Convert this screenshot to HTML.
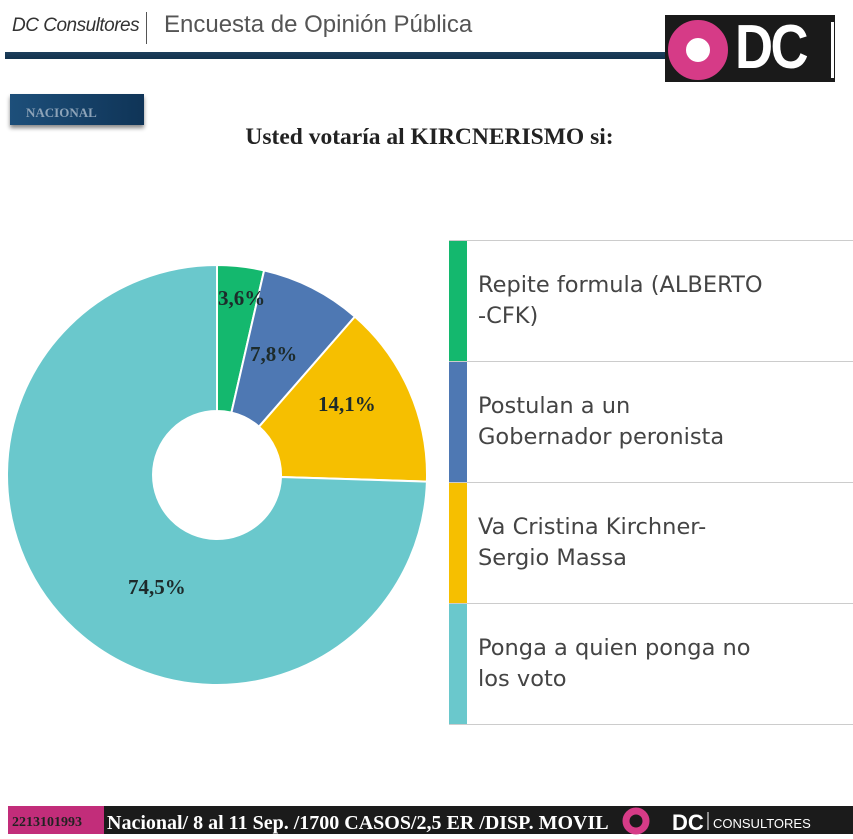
<!DOCTYPE html>
<html><head><meta charset="utf-8"><style>
body{margin:0;width:853px;height:839px;background:#fff;position:relative;overflow:hidden;font-family:"Liberation Sans",sans-serif}
.a{position:absolute}
</style></head><body>
<div class="a" style="left:12px;top:15px;font-size:19px;font-style:italic;color:#333;letter-spacing:-0.5px">DC Consultores</div>
<div class="a" style="left:146px;top:12px;width:1px;height:32px;background:#555"></div>
<div class="a" style="left:164px;top:11px;font-size:24px;color:#555">Encuesta de Opinión Pública</div>
<div class="a" style="left:5px;top:52px;width:665px;height:7px;background:linear-gradient(#1d3f5c,#12324d)"></div>
<div class="a" style="left:665px;top:15px;width:170px;height:67px;background:#1a1a1a"></div>
<div class="a" style="left:668px;top:20px;width:24px;height:24px;border-radius:50%;border:18px solid #d63b87;background:#fff"></div>
<div class="a" style="left:735px;top:12px;font-size:62px;font-weight:bold;color:#fff;letter-spacing:-3px;transform:scaleX(0.85);transform-origin:left">DC</div>
<div class="a" style="left:831px;top:22px;width:3px;height:56px;background:#fff"></div>
<div class="a" style="left:10px;top:94px;width:134px;height:31px;background:linear-gradient(90deg,#1d4f7a,#0f3457);box-shadow:0 3px 4px #888"></div>
<div class="a" style="left:26px;top:105px;font-family:'Liberation Serif',serif;font-weight:bold;font-size:13px;color:#8da3b8">NACIONAL</div>
<div class="a" style="left:0;width:859px;top:124px;text-align:center;font-family:'Liberation Serif',serif;font-weight:bold;font-size:23.5px;color:#222">Usted votaría al KIRCNERISMO si:</div>
<svg class="a" style="left:0;top:0" width="853" height="839">
<g stroke="#fff" stroke-width="2">
<path d="M217,265 A210,210 0 0 1 264.1,270.4 L231.4,412.6 A64,64 0 0 0 217,411 Z" fill="#14b86e"/>
<path d="M264.1,270.4 A210,210 0 0 1 354.9,316.6 L259,426.7 A64,64 0 0 0 231.4,412.6 Z" fill="#4e78b3"/>
<path d="M354.9,316.6 A210,210 0 0 1 426.9,481.6 L281,477 A64,64 0 0 0 259,426.7 Z" fill="#f6bf00"/>
<path d="M426.9,481.6 A210,210 0 1 1 217,265 L217,411 A64,64 0 1 0 281,477 Z" fill="#6ac8cc"/>
</g>
<g font-family="Liberation Serif,serif" font-weight="bold" font-size="21" fill="#1d2b2b">
<text x="218" y="305">3,6%</text>
<text x="250" y="361">7,8%</text>
<text x="318" y="411">14,1%</text>
<text x="128" y="594">74,5%</text>
</g>
<g stroke="#ccc" stroke-width="1">
<line x1="449" y1="240.5" x2="853" y2="240.5"/><line x1="449" y1="361.5" x2="853" y2="361.5"/>
<line x1="449" y1="482.5" x2="853" y2="482.5"/><line x1="449" y1="603.5" x2="853" y2="603.5"/>
<line x1="449" y1="724.5" x2="853" y2="724.5"/>
</g>
<rect x="449" y="241" width="18" height="120" fill="#14b86e"/>
<rect x="449" y="362" width="18" height="120" fill="#4e78b3"/>
<rect x="449" y="483" width="18" height="120" fill="#f6bf00"/>
<rect x="449" y="604" width="18" height="120" fill="#6ac8cc"/>
<g font-family="DejaVu Sans,sans-serif" font-size="22.5" fill="#444">
<text x="478" y="292">Repite formula (ALBERTO</text><text x="478" y="323">-CFK)</text>
<text x="478" y="413">Postulan a un</text><text x="478" y="444">Gobernador peronista</text>
<text x="478" y="534">Va Cristina Kirchner-</text><text x="478" y="565">Sergio Massa</text>
<text x="478" y="655">Ponga a quien ponga no</text><text x="478" y="686">los voto</text>
</g>
<rect x="8" y="806" width="845" height="28" fill="#1b1b1b"/>
<rect x="8" y="806" width="96" height="28" fill="#c22d7a"/>
<g font-family="Liberation Serif,serif" font-weight="bold">
<text x="12" y="826" font-size="14" fill="#222">2213101993</text>
<text x="107" y="829" font-size="20" fill="#fff">Nacional/ 8 al 11 Sep. /1700 CASOS/2,5 ER /DISP. MOVIL</text>
</g>
<circle cx="636" cy="821" r="10" fill="none" stroke="#d63b87" stroke-width="7"/>
<text x="672" y="830" font-family="Liberation Sans,sans-serif" font-weight="bold" font-size="22" fill="#fff">DC</text>
<line x1="708" y1="812" x2="708" y2="830" stroke="#fff"/>
<text x="713" y="828" font-family="Liberation Sans,sans-serif" font-size="13" fill="#fff">CONSULTORES</text>
</svg>
</body></html>
